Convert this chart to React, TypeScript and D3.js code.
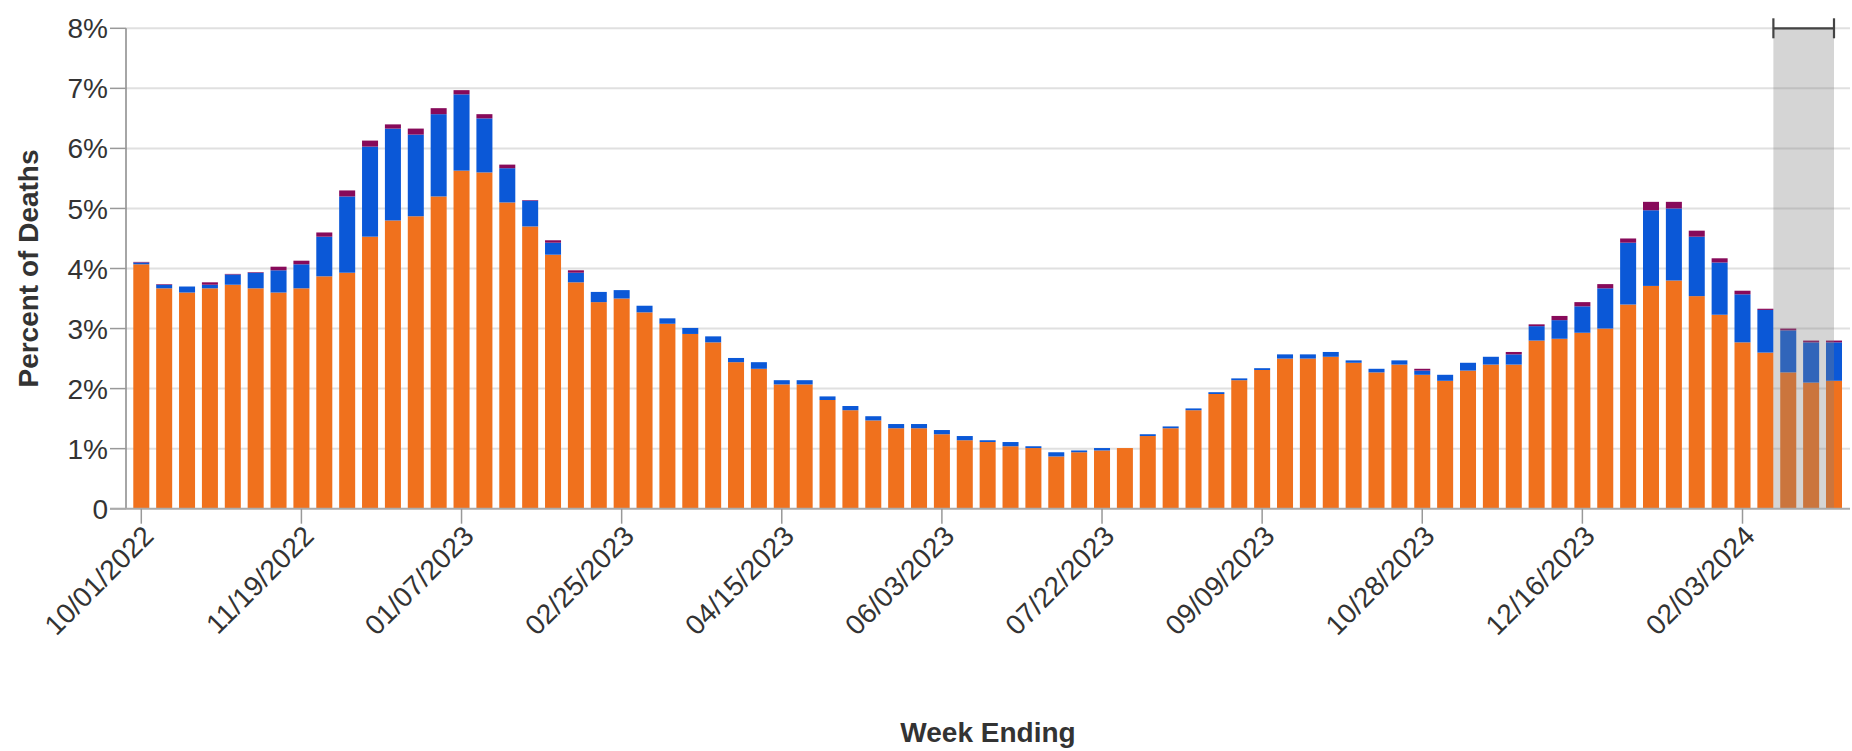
import React, { useEffect } from "react";
import * as d3 from "d3";

// ---- data ----
const firstWeek = "2022-10-01";
const weekCount = 75;
const covid = [
  4.07, 3.67, 3.6, 3.67, 3.73, 3.67, 3.6, 3.67, 3.87, 3.93,
  4.53, 4.8, 4.87, 5.2, 5.63, 5.6, 5.1, 4.7, 4.23, 3.77,
  3.44, 3.5, 3.27, 3.08, 2.91, 2.77, 2.44, 2.33, 2.07, 2.07,
  1.81, 1.64, 1.47, 1.34, 1.34, 1.24, 1.14, 1.11, 1.04, 1.01,
  0.87, 0.94, 0.97, 1.01, 1.21, 1.34, 1.64, 1.91, 2.14, 2.31,
  2.5, 2.5, 2.53, 2.43, 2.27, 2.4, 2.23, 2.13, 2.3, 2.4,
  2.4, 2.8, 2.83, 2.93, 3.0, 3.4, 3.71, 3.8, 3.54, 3.23,
  2.77, 2.6, 2.27, 2.1, 2.13,
];
const influenza = [
  0.03, 0.06, 0.1, 0.06, 0.17, 0.26, 0.37, 0.4, 0.66, 1.27,
  1.5, 1.53, 1.36, 1.37, 1.27, 0.9, 0.57, 0.43, 0.2, 0.16,
  0.17, 0.14, 0.11, 0.09, 0.1, 0.1, 0.07, 0.11, 0.07, 0.07,
  0.06, 0.07, 0.07, 0.07, 0.07, 0.07, 0.07, 0.03, 0.07, 0.03,
  0.07, 0.03, 0.04, 0.0, 0.03, 0.03, 0.03, 0.03, 0.03, 0.03,
  0.07, 0.07, 0.08, 0.04, 0.06, 0.07, 0.07, 0.1, 0.13, 0.13,
  0.17, 0.24, 0.31, 0.44, 0.67, 1.03, 1.26, 1.2, 0.99, 0.87,
  0.8, 0.71, 0.7, 0.67, 0.64,
];
const rsv = [
  0.01, 0.01, 0.0, 0.04, 0.01, 0.01, 0.06, 0.06, 0.07, 0.1,
  0.1, 0.07, 0.1, 0.1, 0.07, 0.07, 0.06, 0.01, 0.04, 0.04,
  0.0, 0.0, 0.0, 0.0, 0.0, 0.0, 0.0, 0.0, 0.0, 0.0,
  0.0, 0.0, 0.0, 0.0, 0.0, 0.0, 0.0, 0.0, 0.0, 0.0,
  0.0, 0.0, 0.0, 0.0, 0.0, 0.0, 0.0, 0.0, 0.0, 0.0,
  0.0, 0.0, 0.0, 0.0, 0.0, 0.0, 0.03, 0.0, 0.0, 0.0,
  0.04, 0.03, 0.07, 0.07, 0.07, 0.07, 0.14, 0.11, 0.1, 0.07,
  0.06, 0.02, 0.03, 0.03, 0.03,
];
const seriesNames = ["COVID-19", "Influenza", "RSV"];
const seriesColors = ["#f0711d", "#0b58d7", "#870a5a"];
const yTicks = [0, 1, 2, 3, 4, 5, 6, 7, 8];
const tickEvery = 7;
const shadeStart = "2024-02-10";
const shadeEnd = "2024-03-02";
const xTitle = "Week Ending";
const yTitle = "Percent of Deaths";

const W = 1852;
const H = 751;
const FONT = "'Liberation Sans', Arial, Helvetica, sans-serif";

export default function App() {
  useEffect(() => {
    document.body.style.margin = "0";
  }, []);

  const t0 = d3.utcParse("%Y-%m-%d")(firstWeek) as Date;
  const weeks = d3.range(weekCount).map((i) => d3.utcDay.offset(t0, i * 7));
  const rows = weeks.map((d, i) => ({
    date: d,
    "COVID-19": covid[i],
    Influenza: influenza[i],
    RSV: rsv[i],
  }));
  const stack = d3.stack<any>().keys(seriesNames);
  const layers = stack(rows);

  const plotLeft = 126;
  const plotRight = 1850;
  const x = d3
    .scaleUtc()
    .domain([weeks[0], weeks[weeks.length - 1]])
    .range([141.3, 1834]);
  const y = d3.scaleLinear().domain([0, 8]).range([508.7, 28.3]);
  const step = x(weeks[1]) - x(weeks[0]);
  const bw = step * 0.7;
  const fmt = d3.utcFormat("%m/%d/%Y");
  const parse = d3.utcParse("%Y-%m-%d");
  const sx0 = x(parse(shadeStart) as Date) + bw / 2;
  const sx1 = x(parse(shadeEnd) as Date);
  const xTickDates = weeks.filter((_, i) => i % tickEvery === 0);
  const y0 = y(0);

  return (
    <svg
      width={W}
      height={H}
      style={{ position: "absolute", left: 0, top: 0, display: "block", background: "#fff" }}
      fontFamily={FONT}
    >
      {/* gridlines */}
      {yTicks
        .filter((t) => t > 0)
        .map((t) => (
          <line key={"g" + t} x1={plotLeft} x2={plotRight} y1={y(t)} y2={y(t)} stroke="#e0e0e0" strokeWidth={2} />
        ))}
      {/* bars */}
      {layers.map((layer, li) => (
        <g key={layer.key} fill={seriesColors[li]}>
          {layer.map((seg, i) => {
            const h = y(seg[0]) - y(seg[1]);
            if (h <= 0) return null;
            return (
              <rect key={i} x={x(weeks[i]) - bw / 2} y={y(seg[1])} width={bw} height={h} />
            );
          })}
        </g>
      ))}
      {/* shaded incomplete-data region */}
      <rect x={sx0} y={y(8)} width={sx1 - sx0} height={y0 - y(8)} fill="#808080" fillOpacity={0.33} />
      <g stroke="#444" strokeWidth={2.2}>
        <line x1={sx0} x2={sx1} y1={y(8)} y2={y(8)} />
        <line x1={sx0} x2={sx0} y1={y(8) - 10} y2={y(8) + 10} />
        <line x1={sx1} x2={sx1} y1={y(8) - 10} y2={y(8) + 10} />
      </g>
      {/* y axis */}
      <line x1={plotLeft} x2={plotLeft} y1={y(8)} y2={y0} stroke="#888" strokeWidth={1.5} />
      {yTicks.map((t) => (
        <g key={"yt" + t}>
          <line x1={110} x2={plotLeft} y1={y(t)} y2={y(t)} stroke="#999" strokeWidth={1.5} />
          <text x={108} y={y(t)} dy="0.36em" textAnchor="end" fontSize={28} fill="#333">
            {t === 0 ? "0" : `${t}%`}
          </text>
        </g>
      ))}
      {/* x axis */}
      <line x1={110} x2={plotRight} y1={y0} y2={y0} stroke="#aaa" strokeWidth={2} />
      {xTickDates.map((d, i) => (
        <g key={"xt" + i} transform={`translate(${x(d)},${y0})`}>
          <line x1={0} x2={0} y1={0} y2={15} stroke="#999" strokeWidth={1.5} />
          <text
            transform="translate(0,15) rotate(-45)"
            dy="0.71em"
            textAnchor="end"
            fontSize={28}
            fill="#333"
          >
            {fmt(d)}
          </text>
        </g>
      ))}
      {/* titles */}
      <text x={(plotLeft + plotRight) / 2} y={742} textAnchor="middle" fontSize={28} fontWeight="bold" fill="#333">
        {xTitle}
      </text>
      <text
        transform={`translate(38,${(y(8) + y0) / 2}) rotate(-90)`}
        textAnchor="middle"
        fontSize={28}
        fontWeight="bold"
        fill="#333"
      >
        {yTitle}
      </text>
    </svg>
  );
}
